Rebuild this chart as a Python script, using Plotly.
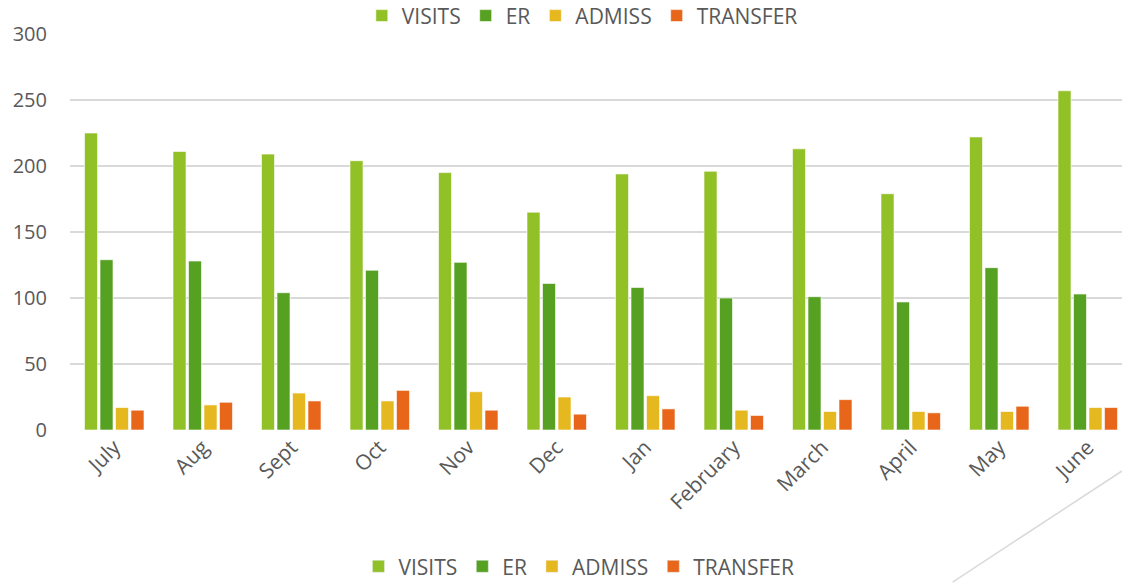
import plotly.graph_objects as go

months = ["July", "Aug", "Sept", "Oct", "Nov", "Dec", "Jan", "February", "March", "April", "May", "June"]
visits = [225, 211, 209, 204, 195, 165, 194, 196, 213, 179, 222, 257]
er = [129, 128, 104, 121, 127, 111, 108, 100, 101, 97, 123, 103]
admiss = [17, 19, 28, 22, 29, 25, 26, 15, 14, 14, 14, 17]
transfer = [15, 21, 22, 30, 15, 12, 16, 11, 23, 13, 18, 17]

series = [
    ("VISITS", visits, "#92C127"),
    ("ER", er, "#56A122"),
    ("ADMISS", admiss, "#E5B81F"),
    ("TRANSFER", transfer, "#E8661A"),
]

FONT = "Open Sans"
TXT = "#595959"

fig = go.Figure()
for name, vals, col in series:
    fig.add_trace(go.Bar(
        x=months, y=vals, name=name,
        marker=dict(color=col, line=dict(color="rgba(255,255,255,0.6)", width=1)),
        legend="legend",
    ))
# duplicate legend entries for the second (bottom) legend, on a hidden overlay axis
for name, vals, col in series:
    fig.add_trace(go.Bar(
        x=[months[0]], y=[None], name=name,
        marker=dict(color=col),
        legend="legend2", xaxis="x2", yaxis="y2", hoverinfo="skip",
    ))

fig.update_layout(
    width=1122, height=583,
    margin=dict(l=70, r=0, t=34, b=153, autoexpand=False),
    paper_bgcolor="white", plot_bgcolor="white",
    barmode="group", bargap=0.30, bargroupgap=0.16,
    font=dict(family=FONT, color=TXT, size=20),
    xaxis=dict(
        range=[-0.5, 11.387], tickangle=-45, showgrid=False, showline=False,
        zeroline=False, ticks="", tickfont=dict(size=21, color=TXT),
        automargin=False,
    ),
    yaxis=dict(
        range=[0, 300], tickvals=[0, 50, 100, 150, 200, 250, 300],
        showgrid=True, gridcolor="#D9D9D9", gridwidth=2, zeroline=False,
        showline=False, ticks="", ticklabelstandoff=22,
        tickfont=dict(size=20, color=TXT), automargin=False,
    ),
    xaxis2=dict(overlaying="x", visible=False, range=[-0.5, 11.387],
                categoryorder="array", categoryarray=months),
    yaxis2=dict(overlaying="y", visible=False, range=[0, 300]),
    legend=dict(
        orientation="h", xref="container", yref="container",
        x=0.519, xanchor="center", y=0.9726, yanchor="middle",
        font=dict(size=21, color=TXT), bgcolor="rgba(0,0,0,0)",
        itemwidth=30,
    ),
    legend2=dict(
        orientation="h", xref="container", yref="container",
        x=0.516, xanchor="center", y=0.028, yanchor="middle",
        font=dict(size=21, color=TXT), bgcolor="rgba(0,0,0,0)",
        itemwidth=30,
    ),
    shapes=[dict(
        type="line", xref="paper", yref="paper",
        x0=0.839, y0=-0.384, x1=1.0, y1=-0.1035,
        line=dict(color="#D9D9D9", width=1.5),
    )],
)

fig.write_html(
    "out.html",
    config={"displayModeBar": False},
    post_script="document.body.style.margin='0';document.body.style.overflow='hidden';",
)
